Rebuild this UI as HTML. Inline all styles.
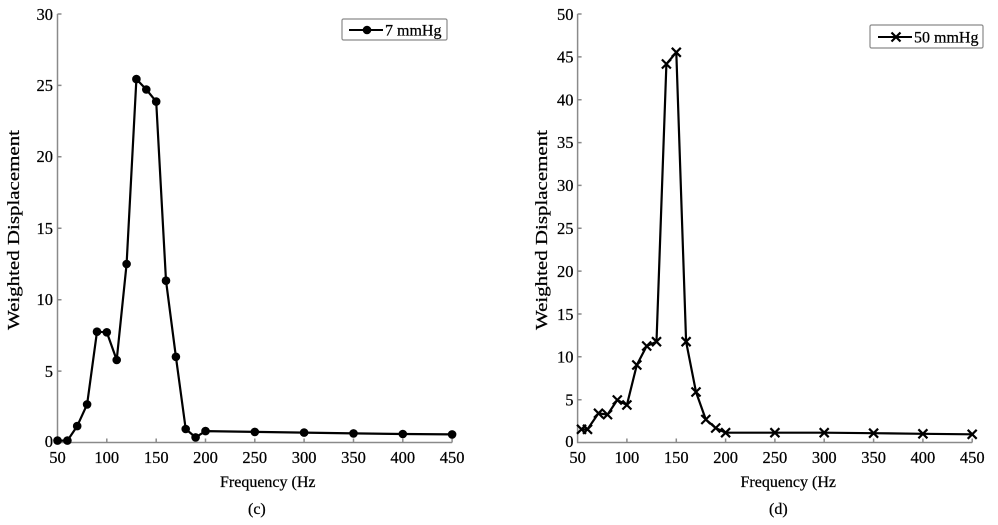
<!DOCTYPE html>
<html><head><meta charset="utf-8"><style>
html,body{margin:0;padding:0;background:#fff;}
svg{display:block;font-family:"Liberation Serif",serif;}
svg text{fill:#000;stroke:#000;stroke-width:0.25;}
</style></head><body>
<svg width="998" height="525" viewBox="0 0 998 525" xmlns="http://www.w3.org/2000/svg">
<rect width="998" height="525" fill="#fff"/>
<!-- LEFT CHART -->
<g stroke="#8a8a8a" stroke-width="1.5" fill="none">
<path d="M57.5 14 V442.5 H452.1"/>
<path d="M57.5 14h4M57.5 85.4h4M57.5 156.8h4M57.5 228.2h4M57.5 299.7h4M57.5 371.1h4"/>
<path d="M106.8 442.5v-4M156.2 442.5v-4M205.5 442.5v-4M254.8 442.5v-4M304.1 442.5v-4M353.5 442.5v-4M402.8 442.5v-4M452.1 442.5v-4"/>
</g>
<g font-size="16.5" text-anchor="end">
<text x="53" y="20">30</text><text x="53" y="91">25</text><text x="53" y="162">20</text>
<text x="53" y="234">15</text><text x="53" y="305">10</text><text x="53" y="377">5</text><text x="53" y="447">0</text>
</g>
<g font-size="16.5" text-anchor="middle">
<text x="57.5" y="463">50</text><text x="106.8" y="463">100</text><text x="156.2" y="463">150</text>
<text x="205.5" y="463">200</text><text x="254.8" y="463">250</text><text x="304.1" y="463">300</text>
<text x="353.5" y="463">350</text><text x="402.8" y="463">400</text><text x="452.1" y="463">450</text>
</g>
<text x="220" y="487" font-size="16">Frequency (Hz</text>
<text x="248" y="514" font-size="16">(c)</text>
<text transform="translate(19,330) rotate(-90)" font-size="17" textLength="200" lengthAdjust="spacingAndGlyphs">Weighted Displacement</text>
<polyline fill="none" stroke="#000" stroke-width="2.2" stroke-linejoin="round" points="57.5,440.6 67.4,440.6 77.2,426.1 87.1,404.4 97,331.7 106.8,332.3 116.7,360 126.6,264 136.4,79.1 146.3,89.5 156.2,101.6 166,280.7 175.9,356.8 185.7,429 195.6,437.4 205.5,431.1 254.8,431.9 304.1,432.6 353.5,433.4 402.8,434 452.1,434.4"/>
<g fill="#000">
<circle cx="57.5" cy="440.6" r="4.3"/><circle cx="67.4" cy="440.6" r="4.3"/><circle cx="77.2" cy="426.1" r="4.3"/>
<circle cx="87.1" cy="404.4" r="4.3"/><circle cx="97" cy="331.7" r="4.3"/><circle cx="106.8" cy="332.3" r="4.3"/>
<circle cx="116.7" cy="360" r="4.3"/><circle cx="126.6" cy="264" r="4.3"/><circle cx="136.4" cy="79.1" r="4.3"/>
<circle cx="146.3" cy="89.5" r="4.3"/><circle cx="156.2" cy="101.6" r="4.3"/><circle cx="166" cy="280.7" r="4.3"/>
<circle cx="175.9" cy="356.8" r="4.3"/><circle cx="185.7" cy="429" r="4.3"/><circle cx="195.6" cy="437.4" r="4.3"/>
<circle cx="205.5" cy="431.1" r="4.3"/><circle cx="254.8" cy="431.9" r="4.3"/><circle cx="304.1" cy="432.6" r="4.3"/>
<circle cx="353.5" cy="433.4" r="4.3"/><circle cx="402.8" cy="434" r="4.3"/><circle cx="452.1" cy="434.4" r="4.3"/>
</g>
<rect x="342" y="19" width="105" height="21" rx="1.5" fill="#fff" stroke="#8a8a8a" stroke-width="1.2"/>
<line x1="349" y1="30" x2="383" y2="30" stroke="#000" stroke-width="2"/>
<circle cx="367" cy="30" r="4.3" fill="#000"/>
<text x="385" y="35.5" font-size="16">7 mmHg</text>

<!-- RIGHT CHART -->
<g stroke="#8a8a8a" stroke-width="1.5" fill="none">
<path d="M577.6 14 V442.5 H972.2"/>
<path d="M577.6 14h4M577.6 56.9h4M577.6 99.7h4M577.6 142.6h4M577.6 185.4h4M577.6 228.3h4M577.6 271.1h4M577.6 314h4M577.6 356.8h4M577.6 399.7h4"/>
<path d="M626.9 442.5v-4M676.3 442.5v-4M725.6 442.5v-4M774.9 442.5v-4M824.2 442.5v-4M873.6 442.5v-4M922.9 442.5v-4M972.2 442.5v-4"/>
</g>
<g font-size="16.5" text-anchor="end">
<text x="573.5" y="20">50</text><text x="573.5" y="62.5">45</text><text x="573.5" y="105.5">40</text>
<text x="573.5" y="148">35</text><text x="573.5" y="191">30</text><text x="573.5" y="234">25</text>
<text x="573.5" y="277">20</text><text x="573.5" y="320">15</text><text x="573.5" y="362.5">10</text>
<text x="573.5" y="405.5">5</text><text x="573.5" y="447">0</text>
</g>
<g font-size="16.5" text-anchor="middle">
<text x="577.6" y="463">50</text><text x="626.9" y="463">100</text><text x="676.3" y="463">150</text>
<text x="725.6" y="463">200</text><text x="774.9" y="463">250</text><text x="824.2" y="463">300</text>
<text x="873.6" y="463">350</text><text x="922.9" y="463">400</text><text x="972.2" y="463">450</text>
</g>
<text x="740.5" y="487" font-size="16">Frequency (Hz</text>
<text x="769" y="514" font-size="16">(d)</text>
<text transform="translate(547,330) rotate(-90)" font-size="17" textLength="200" lengthAdjust="spacingAndGlyphs">Weighted Displacement</text>
<polyline fill="none" stroke="#000" stroke-width="2.2" stroke-linejoin="round" points="581.5,429.3 587.5,429.3 598.5,413.3 607.5,414.6 617.3,400 626.9,405 636.8,365 646.7,346 656.5,341.7 666.4,64 676.3,52.3 686.1,341.7 696,392 705.8,419.5 715.7,428 725.6,432.7 774.9,432.7 824.2,432.7 873.6,433.2 922.9,433.8 972.2,434.3"/>
<g stroke="#000" stroke-width="2.2" fill="none">
<path d="M577 424.8l9 9M586 424.8l-9 9"/>
<path d="M583 424.8l9 9M592 424.8l-9 9"/>
<path d="M594 408.8l9 9M603 408.8l-9 9"/>
<path d="M603 410.1l9 9M612 410.1l-9 9"/>
<path d="M612.8 395.5l9 9M621.8 395.5l-9 9"/>
<path d="M622.4 400.5l9 9M631.4 400.5l-9 9"/>
<path d="M632.3 360.5l9 9M641.3 360.5l-9 9"/>
<path d="M642.2 341.5l9 9M651.2 341.5l-9 9"/>
<path d="M652 337.2l9 9M661 337.2l-9 9"/>
<path d="M661.9 59.5l9 9M670.9 59.5l-9 9"/>
<path d="M671.8 47.8l9 9M680.8 47.8l-9 9"/>
<path d="M681.6 337.2l9 9M690.6 337.2l-9 9"/>
<path d="M691.5 387.5l9 9M700.5 387.5l-9 9"/>
<path d="M701.3 415l9 9M710.3 415l-9 9"/>
<path d="M711.2 423.5l9 9M720.2 423.5l-9 9"/>
<path d="M721.1 428.2l9 9M730.1 428.2l-9 9"/>
<path d="M770.4 428.2l9 9M779.4 428.2l-9 9"/>
<path d="M819.7 428.2l9 9M828.7 428.2l-9 9"/>
<path d="M869.1 428.7l9 9M878.1 428.7l-9 9"/>
<path d="M918.4 429.3l9 9M927.4 429.3l-9 9"/>
<path d="M967.7 429.8l9 9M976.7 429.8l-9 9"/>
</g>
<rect x="870" y="25" width="113" height="23" rx="1.5" fill="#fff" stroke="#8a8a8a" stroke-width="1.2"/>
<line x1="878" y1="37" x2="912" y2="37" stroke="#000" stroke-width="2"/>
<path d="M891.5 32.5l9 9M900.5 32.5l-9 9" stroke="#000" stroke-width="2.2"/>
<text x="914" y="42.5" font-size="16">50 mmHg</text>
</svg>
</body></html>
